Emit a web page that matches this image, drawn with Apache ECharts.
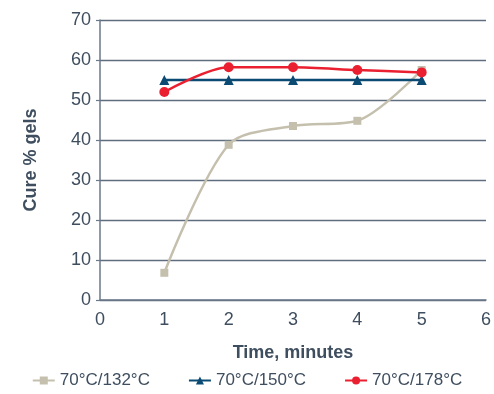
<!DOCTYPE html>
<html><head><meta charset="utf-8">
<script src="https://cdn.jsdelivr.net/npm/echarts@6/dist/echarts.min.js"></script>
<style>html,body{margin:0;padding:0;background:#fff}#c{width:494px;height:394px}</style>
</head><body><div id="c"></div>
<script>
const times = [1, 2, 3, 4, 5];
const s132 = [6.8, 38.8, 43.5, 44.8, 57.5];
const s150 = [55, 55, 55, 55, 55];
const s178 = [52, 58.2, 58.2, 57.5, 56.9];
const names = ['70°C/132°C', '70°C/150°C', '70°C/178°C'];
const txt = '#3f4e5f';
const font = 'Liberation Sans';
function pts(v){ return times.map((t,i)=>[t, v[i]]); }
const chart = echarts.init(document.getElementById('c'));
chart.setOption({
  animation: false,
  textStyle: {fontFamily: font},
  grid: {left: 100, right: 4, top: 20, bottom: 94},
  xAxis: {
    type: 'value', min: 0, max: 6, interval: 1,
    name: 'Time, minutes', nameLocation: 'middle', nameGap: 44,
    nameTextStyle: {color: txt, fontSize: 18, fontWeight: 'bold', fontFamily: font},
    axisLine: {lineStyle: {color: '#6b7889', width: 1.5}},
    axisTick: {show: false},
    axisLabel: {color: txt, fontSize: 18, margin: 11, fontFamily: font},
    splitLine: {show: false}
  },
  yAxis: {
    type: 'value', min: 0, max: 70, interval: 10,
    name: 'Cure % gels', nameLocation: 'middle', nameGap: 60,
    nameTextStyle: {color: txt, fontSize: 18, fontWeight: 'bold', fontFamily: font},
    axisLine: {show: true, lineStyle: {color: '#6b7889', width: 1.5}},
    axisTick: {show: true, length: 4, lineStyle: {color: '#6b7889', width: 1.2}},
    axisLabel: {color: txt, fontSize: 18, margin: 9, fontFamily: font},
    splitLine: {lineStyle: {color: '#5f6d7e', width: 1.4}}
  },
  legend: {
    bottom: 0, left: 'center', itemGap: 38, itemWidth: 22, itemHeight: 10,
    textStyle: {color: txt, fontSize: 17, fontFamily: font},
    data: names
  },
  series: [
    {name: names[0], type: 'line', data: pts(s132), smooth: 0.3,
     symbol: 'rect', symbolSize: 8,
     lineStyle: {color: '#c5c0ae', width: 2.5}, itemStyle: {color: '#c5c0ae'}},
    {name: names[1], type: 'line', data: pts(s150), smooth: 0.3,
     symbol: 'triangle', symbolSize: 10,
     lineStyle: {color: '#0b4a72', width: 2.5}, itemStyle: {color: '#0b4a72'}},
    {name: names[2], type: 'line', data: pts(s178), smooth: 0.3,
     symbol: 'circle', symbolSize: 10,
     lineStyle: {color: '#ea1f30', width: 2.5}, itemStyle: {color: '#ea1f30'}}
  ]
});
</script></body></html>
